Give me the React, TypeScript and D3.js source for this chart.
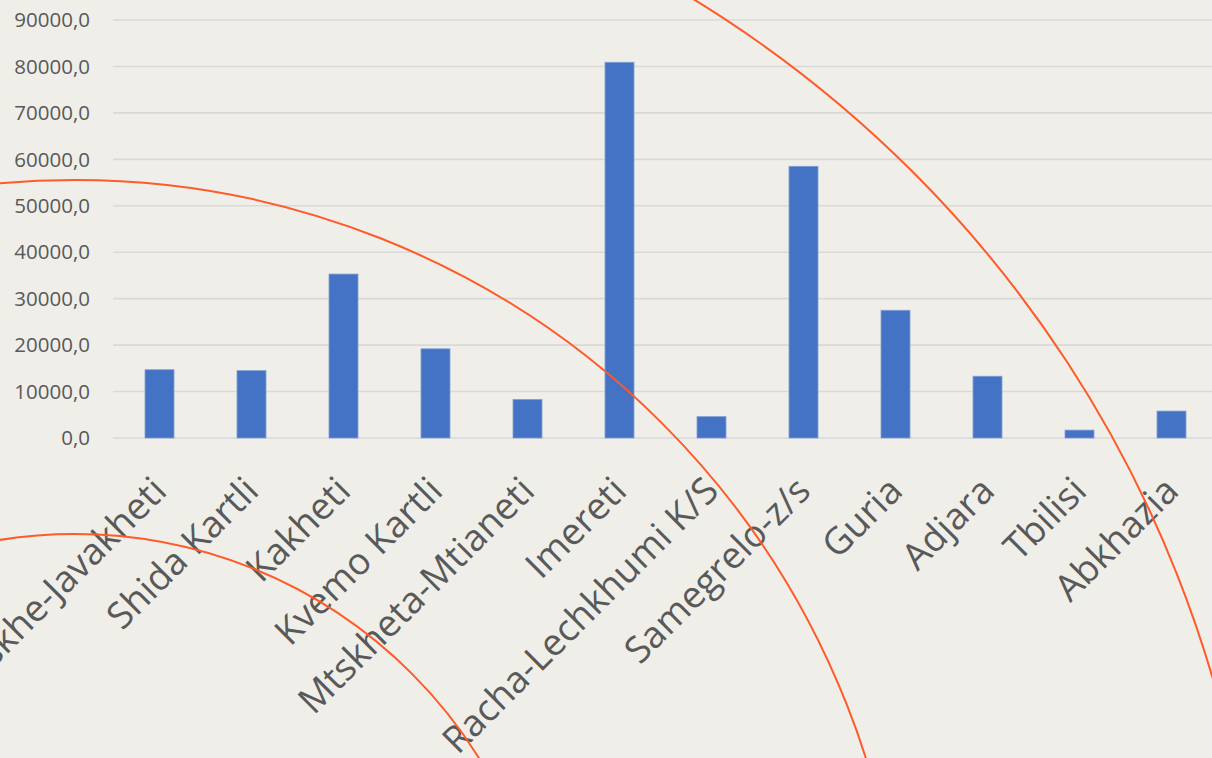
import { useRef, useEffect } from 'react';
import * as d3 from 'd3';

const regions = [
  'Samtskhe-Javakheti',
  'Shida Kartli',
  'Kakheti',
  'Kvemo Kartli',
  'Mtskheta-Mtianeti',
  'Imereti',
  'Racha-Lechkhumi K/S',
  'Samegrelo-z/s',
  'Guria',
  'Adjara',
  'Tbilisi',
  'Abkhazia',
];

const values = [
  14700, 14500, 35300, 19200, 8300, 80900, 4600, 58500, 27500, 13300, 1700, 5800,
];

const yTicks = [0, 10000, 20000, 30000, 40000, 50000, 60000, 70000, 80000, 90000];

const WIDTH = 1212;
const HEIGHT = 758;

export default function App() {
  const svgRef = useRef<SVGSVGElement>(null);

  useEffect(() => {
    if (!svgRef.current) return;
    const svg = d3.select(svgRef.current);
    svg.selectAll('*').remove();

    const x = d3
      .scaleBand()
      .domain(regions)
      .range([113.5, 1217.5])
      .paddingInner(0.685)
      .paddingOuter(0.3425);

    const y = d3.scaleLinear().domain([0, 90000]).range([438, 20]);

    svg
      .append('rect')
      .attr('width', WIDTH)
      .attr('height', HEIGHT)
      .attr('fill', '#efeee9');

    // gridlines
    svg
      .append('g')
      .selectAll('line')
      .data(yTicks)
      .join('line')
      .attr('x1', 113)
      .attr('x2', WIDTH)
      .attr('y1', (d) => y(d))
      .attr('y2', (d) => y(d))
      .attr('stroke', '#d9d9d9')
      .attr('stroke-width', 1.6);

    // y labels
    svg
      .append('g')
      .selectAll('text')
      .data(yTicks)
      .join('text')
      .attr('x', 90)
      .attr('y', (d) => y(d))
      .attr('dy', '0.35em')
      .attr('text-anchor', 'end')
      .attr('font-family', '"Open Sans", sans-serif')
      .attr('font-size', 20.5)
      .attr('fill', '#595959')
      .text((d) => d3.format('d')(d) + ',0');

    // bars
    svg
      .append('g')
      .selectAll('rect')
      .data(regions)
      .join('rect')
      .attr('x', (d) => x(d) || 0)
      .attr('y', (_, i) => y(values[i]))
      .attr('width', x.bandwidth())
      .attr('height', (_, i) => y(0) - y(values[i]))
      .attr('fill', '#4472c4')
      .attr('stroke', '#7f9fd6')
      .attr('stroke-width', 0.8);

    // category labels
    svg
      .append('g')
      .selectAll('text')
      .data(regions)
      .join('text')
      .attr(
        'transform',
        (d) => `translate(${(x(d) || 0) + x.bandwidth() / 2 + 9},493) rotate(-45)`
      )
      .attr('text-anchor', 'end')
      .attr('font-family', '"Open Sans", sans-serif')
      .attr('font-size', 37)
      .attr('fill', '#595959')
      .text((d) => d);

    // decorative arcs
    const cx = 75;
    const cy = 1010;
    svg
      .append('g')
      .selectAll('circle')
      .data([476, 830, 1185])
      .join('circle')
      .attr('cx', cx)
      .attr('cy', cy)
      .attr('r', (d) => d)
      .attr('fill', 'none')
      .attr('stroke', '#ff5a28')
      .attr('stroke-width', 2);
  }, []);

  return (
    <svg
      ref={svgRef}
      width={WIDTH}
      height={HEIGHT}
      viewBox={`0 0 ${WIDTH} ${HEIGHT}`}
      style={{ position: 'absolute', left: 0, top: 0, display: 'block' }}
    ></svg>
  );
}
